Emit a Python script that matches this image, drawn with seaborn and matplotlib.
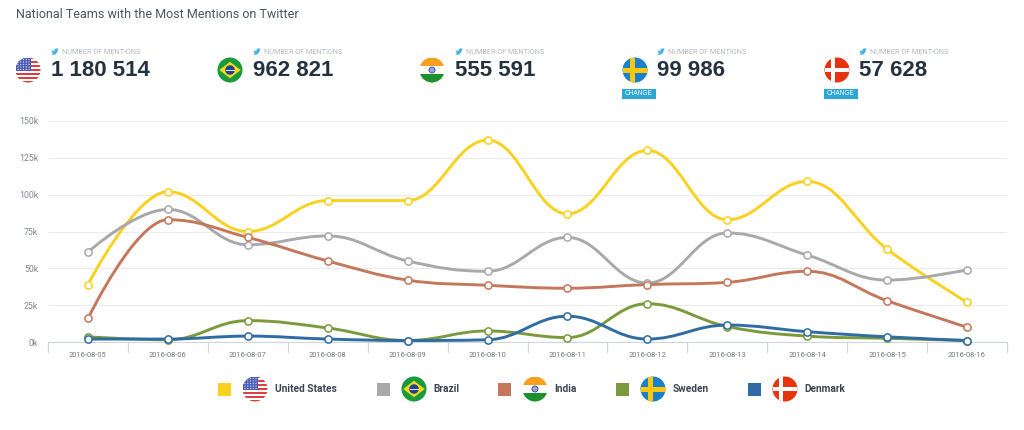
import matplotlib
matplotlib.use("Agg")
import matplotlib.pyplot as plt
import seaborn as sns
from matplotlib.patches import Circle, PathPatch, Polygon, Rectangle
from matplotlib.path import Path

dates = ["2016-08-05", "2016-08-06", "2016-08-07", "2016-08-08", "2016-08-09", "2016-08-10",
         "2016-08-11", "2016-08-12", "2016-08-13", "2016-08-14", "2016-08-15", "2016-08-16"]
usa = [39000, 102000, 75000, 96000, 96000, 137000, 87000, 130000, 83000, 109000, 63000, 27000]
brazil = [61000, 90000, 66000, 72000, 55000, 48000, 71000, 40000, 74000, 59000, 42000, 49000]
india = [16000, 83000, 71000, 55000, 42000, 38500, 36500, 39000, 40500, 48000, 28000, 10000]
sweden = [3500, 1500, 14500, 9500, 1000, 7500, 3000, 26000, 10500, 4000, 2500, 1000]
denmark = [2000, 2000, 4000, 2000, 1000, 1500, 17500, 2000, 11500, 7000, 3500, 1000]

teams = ["United States", "Brazil", "India", "Sweden", "Denmark"]
series = [usa, brazil, india, sweden, denmark]
colors = ["#fad11e", "#a9a8aa", "#c4775a", "#7a9a3c", "#2f6ca3"]
totals = ["1 180 514", "962 821", "555 591", "99 986", "57 628"]
y_ticks = [0, 25000, 50000, 75000, 100000, 125000, 150000]
y_labels = ["0k", "25k", "50k", "75k", "100k", "125k", "150k"]

FONT = "Roboto"
GREY = "#7f8790"
DARK = "#24323f"
BLUE = "#2ba6d6"


def spline_path(xs, ys):
    # same control point rule as a highcharts spline
    verts = [(xs[0], ys[0])]
    codes = [Path.MOVETO]
    n = len(xs)
    rights = [(xs[0], ys[0])]
    lefts = [None]
    for i in range(1, n - 1):
        x, y = xs[i], ys[i]
        lx = (1.5 * x + xs[i - 1]) / 2.5
        ly = (1.5 * y + ys[i - 1]) / 2.5
        rx = (1.5 * x + xs[i + 1]) / 2.5
        ry = (1.5 * y + ys[i + 1]) / 2.5
        corr = (ry - ly) * (rx - x) / (rx - lx) + y - ry
        ly += corr
        ry += corr
        if ly > ys[i - 1] and ly > y:
            ly = max(ys[i - 1], y)
            ry = 2 * y - ly
        elif ly < ys[i - 1] and ly < y:
            ly = min(ys[i - 1], y)
            ry = 2 * y - ly
        if ry > ys[i + 1] and ry > y:
            ry = max(ys[i + 1], y)
            ly = 2 * y - ry
        elif ry < ys[i + 1] and ry < y:
            ry = min(ys[i + 1], y)
            ly = 2 * y - ry
        lefts.append((lx, ly))
        rights.append((rx, ry))
    lefts.append((xs[-1], ys[-1]))
    for i in range(1, n):
        verts += [rights[i - 1], lefts[i], (xs[i], ys[i])]
        codes += [Path.CURVE4, Path.CURVE4, Path.CURVE4]
    return Path(verts, codes)


def clipped(ax, clip, patch):
    ax.add_patch(patch)
    patch.set_clip_path(clip)


def draw_flag(ax, team, cx, cy, r):
    base = {"United States": "#ffffff", "Brazil": "#1a9a3c", "India": "#ffffff",
            "Sweden": "#1a80cc", "Denmark": "#e8330f"}[team]
    clip = Circle((cx, cy), r, fc=base, ec="none")
    ax.add_patch(clip)
    left, top, d = cx - r, cy - r, 2 * r
    if team == "United States":
        h = d / 13
        for i in range(0, 13, 2):
            clipped(ax, clip, Rectangle((left, top + i * h), d, h, fc="#d9403f", ec="none"))
        clipped(ax, clip, Rectangle((left, top), d * 0.62, h * 7, fc="#4a5cb5", ec="none"))
        for row in range(5):
            for col in range(5):
                dot = Circle((left + 2.5 + col * d * 0.11, top + 2 + row * h * 1.3), r * 0.05,
                             fc="#dfe3f5", ec="none")
                clipped(ax, clip, dot)
    elif team == "Brazil":
        ax.add_patch(Polygon([(cx - r * 0.86, cy), (cx, cy - r * 0.66), (cx + r * 0.86, cy), (cx, cy + r * 0.66)],
                             fc="#f5d81e", ec="none"))
        ax.add_patch(Circle((cx, cy), r * 0.38, fc="#24408f", ec="none"))
        ax.add_patch(Rectangle((cx - r * 0.36, cy - r * 0.04), r * 0.72, r * 0.08, fc="#dfe6f0", ec="none"))
    elif team == "India":
        clipped(ax, clip, Rectangle((left, top), d, d / 3, fc="#f7a01f", ec="none"))
        clipped(ax, clip, Rectangle((left, top + 2 * d / 3), d, d / 3, fc="#1c8f2e", ec="none"))
        ax.add_patch(Circle((cx, cy), r * 0.24, fc="#9aa6d8", ec="#2f3f98", lw=0.6))
    elif team == "Sweden":
        clipped(ax, clip, Rectangle((left + d * 0.28, top), d * 0.2, d, fc="#fdc70c", ec="none"))
        clipped(ax, clip, Rectangle((left, cy - d * 0.1), d, d * 0.2, fc="#fdc70c", ec="none"))
    else:
        clipped(ax, clip, Rectangle((left + d * 0.27, top), d * 0.13, d, fc="white", ec="none"))
        clipped(ax, clip, Rectangle((left, cy - d * 0.065), d, d * 0.13, fc="white", ec="none"))


def draw_bird(ax, x, y):
    pts = [(0, 1.5), (1.6, 2.6), (3.2, 3.2), (3.6, 1.4), (5, 0.3), (6.2, 0.6), (7.6, 0.2), (6.9, 1.2),
           (7.6, 1.1), (6.9, 2), (6.4, 4), (4.6, 6.2), (2.4, 6.9), (0.2, 6.4), (1.9, 5.6), (0.9, 4.9),
           (1.6, 4.4), (0.6, 3.4), (1.3, 3.2)]
    ax.add_patch(Polygon([(x + a, y + b) for a, b in pts], fc="#45b4e4", ec="none"))


sns.set_theme(style="white")
plt.rcParams["font.family"] = [FONT, "DejaVu Sans"]

fig = plt.figure(figsize=(10.24, 4.30), dpi=100)
ax = fig.add_axes([48 / 1024, 1 - 342 / 430, (1007 - 48) / 1024, (342 - 121) / 430])

for team, values, color in zip(teams, series, colors):
    line = PathPatch(spline_path(list(range(len(dates))), values), fc="none", ec=color, lw=2.1,
                     capstyle="round", joinstyle="round", clip_on=False, zorder=3)
    ax.add_patch(line)
for team, values, color in zip(teams, series, colors):
    sns.scatterplot(x=list(range(len(dates))), y=values, ax=ax, color="white", edgecolor=color,
                    s=27, linewidth=1.1, clip_on=False, zorder=4, legend=False)

ax.set_xlim(-0.5, len(dates) - 0.5)
ax.set_ylim(0, 150000)
ax.set_yticks(y_ticks)
ax.set_yticklabels(y_labels, fontsize=6.3, color=GREY)
ax.set_xticks(list(range(len(dates))))
ax.set_xticklabels(dates, fontsize=5.4, color="#6f7780")
ax.tick_params(axis="x", length=0, pad=7)
ax.tick_params(axis="y", length=0, pad=7)
ax.grid(axis="y", color="#e9ecef", lw=0.8)
ax.set_axisbelow(True)
for name in ["top", "right", "left"]:
    ax.spines[name].set_visible(False)
ax.spines["bottom"].set_color("#cfd6dc")
ax.spines["bottom"].set_linewidth(0.8)
for i in range(len(dates) + 1):
    ax.plot([i - 0.5, i - 0.5], [0, -7000], color="#cfd6dc", lw=0.8, clip_on=False, zorder=1)
ax.set_ylabel("")
ax.set_xlabel("")

# everything outside the plot is placed in screen pixels
over = fig.add_axes([0, 0, 1, 1], facecolor="none")
over.set_xlim(0, 1024)
over.set_ylim(430, 0)
over.axis("off")

over.text(16, 15, "National Teams with the Most Mentions on Twitter", fontsize=9.0, color="#4a5560",
          va="center", ha="left")

flag_x = [28, 230, 432, 635, 837]
text_x = [51, 253, 455, 657, 859]
for i, team in enumerate(teams):
    draw_flag(over, team, flag_x[i], 70, 12.5)
    draw_bird(over, text_x[i], 48)
    over.text(text_x[i] + 11, 52, "NUMBER OF MENTIONS", fontsize=5.2, color="#b4b9be", va="center", ha="left")
    over.text(text_x[i], 70.5, totals[i], fontsize=16, color=DARK, fontweight="bold",
              family="Liberation Sans", va="center", ha="left")
for i in [3, 4]:
    over.add_patch(Rectangle((flag_x[i] - 13, 88.5), 33.5, 10.5, fc=BLUE, ec="none"))
    over.text(flag_x[i] + 3.7, 93.9, "CHANGE", fontsize=4.7, color="white", va="center", ha="center",
              family="Liberation Sans")

swatch_x = [224, 383, 504, 622, 754]
legend_flag_x = [255, 414, 535, 653, 785]
legend_text_x = [275, 433, 554, 673, 804]
for i, team in enumerate(teams):
    over.add_patch(Rectangle((swatch_x[i] - 6.5, 382.5), 13, 13, fc=colors[i], ec="none"))
    draw_flag(over, team, legend_flag_x[i], 389, 12.5)
    over.text(legend_text_x[i], 389, team, fontsize=7.3, color="#3a4652", fontweight="bold",
              va="center", ha="left")

fig.savefig("out.png", dpi=100, facecolor="white")
